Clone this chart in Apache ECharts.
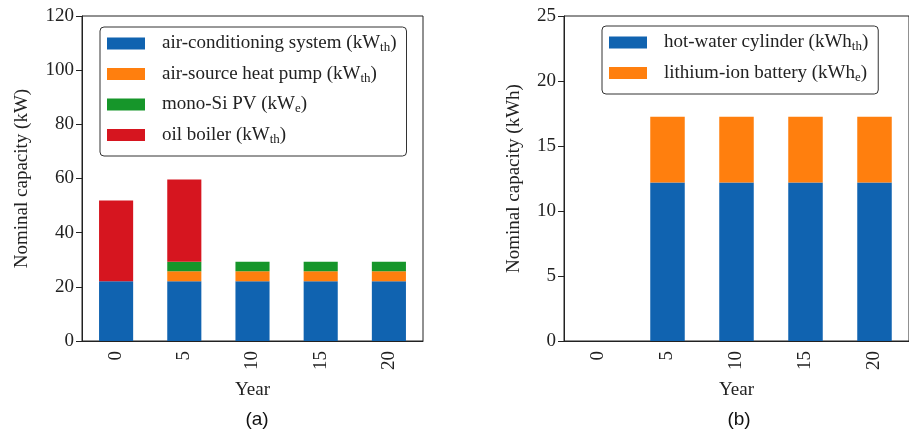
<!DOCTYPE html>
<html><head><meta charset="utf-8">
<script src="https://cdn.jsdelivr.net/npm/echarts@6/dist/echarts.min.js"></script>
<style>html,body{margin:0;padding:0;background:#fff}#c{width:909px;height:433px}</style>
</head><body><div id="c"></div>
<script>
const years = ['0','5','10','15','20'];
const leftTicks = [0,20,40,60,80,100,120];
const rightTicks = [0,5,10,15,20,25];
const airConditioning = [22.1,22.1,22.1,22.1,22.1];
const airSourceHP = [0,3.7,3.7,3.7,3.7];
const monoSiPV = [0,3.5,3.5,3.5,3.5];
const oilBoiler = [29.8,30.3,0,0,0];
const hotWaterCylinder = [0,12.2,12.2,12.2,12.2];
const liIonBattery = [0,5.05,5.05,5.05,5.05];

const SERIF = 'Liberation Serif';
const C = {blue:'#1063b0', orange:'#ff7f0e', green:'#16962a', red:'#d6151f'};
const names = {
  'air-conditioning system (kWth)': '{n|air-conditioning system (kW}{s|th}{n|)}',
  'air-source heat pump (kWth)': '{n|air-source heat pump (kW}{s|th}{n|)}',
  'mono-Si PV (kWe)': '{n|mono-Si PV (kW}{s|e}{n|)}',
  'oil boiler (kWth)': '{n|oil boiler (kW}{s|th}{n|)}',
  'hot-water cylinder (kWhth)': '{n|hot-water cylinder (kWh}{s|th}{n|)}',
  'lithium-ion battery (kWhe)': '{n|lithium-ion battery (kWh}{s|e}{n|)}'
};
const rich = {
  n:{fontFamily:SERIF,fontSize:19,color:'#222',lineHeight:22,verticalAlign:'middle'},
  s:{fontFamily:SERIF,fontSize:13,color:'#222',lineHeight:14,verticalAlign:'bottom'}
};
const legendCommon = {
  orient:'vertical', itemWidth:38, itemHeight:12, itemGap:10,
  borderColor:'#333', borderWidth:1, borderRadius:4,
  icon:'rect', formatter:n=>names[n],
  textStyle:{rich:rich, padding:[0,0,0,12]}, selectedMode:false
};
function xAx(gi){
  return {type:'category', gridIndex:gi, data:years,
    name:'Year', nameLocation:'middle', nameGap:40,
    nameTextStyle:{fontFamily:SERIF,fontSize:19,color:'#222'},
    axisLine:{lineStyle:{color:'#222',width:1}},
    axisTick:{alignWithLabel:true,length:6,lineStyle:{color:'#222'}},
    axisLabel:{rotate:90,fontFamily:SERIF,fontSize:19,color:'#222',margin:10}};
}
function yAx(gi,max,interval,name,gap){
  return {type:'value', gridIndex:gi, min:0, max:max, interval:interval,
    name:name, nameLocation:'middle', nameGap:gap,
    nameTextStyle:{fontFamily:SERIF,fontSize:19,color:'#222'},
    splitLine:{show:false},
    axisLine:{show:true,lineStyle:{color:'#222',width:1}},
    axisTick:{show:true,length:6,lineStyle:{color:'#222'}},
    axisLabel:{fontFamily:SERIF,fontSize:19,color:'#222',margin:8}};
}
function bar(name,data,color,gi,stack){
  return {type:'bar',name:name,data:data,stack:stack,xAxisIndex:gi,yAxisIndex:gi,
    barWidth:'50%',itemStyle:{color:color},emphasis:{disabled:true},animation:false};
}
const chart = echarts.init(document.getElementById('c'));
chart.setOption({
  animation:false,
  title:[
    {text:'(a)',left:252,top:405,textAlign:'center',textStyle:{fontFamily:'Liberation Sans',fontSize:19,fontWeight:'normal',color:'#111'}},
    {text:'(b)',left:734,top:405,textAlign:'center',textStyle:{fontFamily:'Liberation Sans',fontSize:19,fontWeight:'normal',color:'#111'}}
  ],
  grid:[
    {left:82,top:16,width:341,height:325,show:true,borderColor:'#222',borderWidth:1},
    {left:564,top:16,width:352,height:325,show:true,borderColor:'#222',borderWidth:1}
  ],
  legend:[
    Object.assign({},legendCommon,{left:100,top:27,padding:[7,10,10,7],
      data:['air-conditioning system (kWth)','air-source heat pump (kWth)','mono-Si PV (kWe)','oil boiler (kWth)']}),
    Object.assign({},legendCommon,{left:602,top:26,padding:[7,10,10,7],
      data:['hot-water cylinder (kWhth)','lithium-ion battery (kWhe)']})
  ],
  xAxis:[xAx(0),xAx(1)],
  yAxis:[yAx(0,120,20,'Nominal capacity (kW)',50),yAx(1,25,5,'Nominal capacity (kWh)',40)],
  series:[
    bar('air-conditioning system (kWth)',airConditioning,C.blue,0,'a'),
    bar('air-source heat pump (kWth)',airSourceHP,C.orange,0,'a'),
    bar('mono-Si PV (kWe)',monoSiPV,C.green,0,'a'),
    bar('oil boiler (kWth)',oilBoiler,C.red,0,'a'),
    bar('hot-water cylinder (kWhth)',hotWaterCylinder,C.blue,1,'b'),
    bar('lithium-ion battery (kWhe)',liIonBattery,C.orange,1,'b')
  ]
});
</script></body></html>
